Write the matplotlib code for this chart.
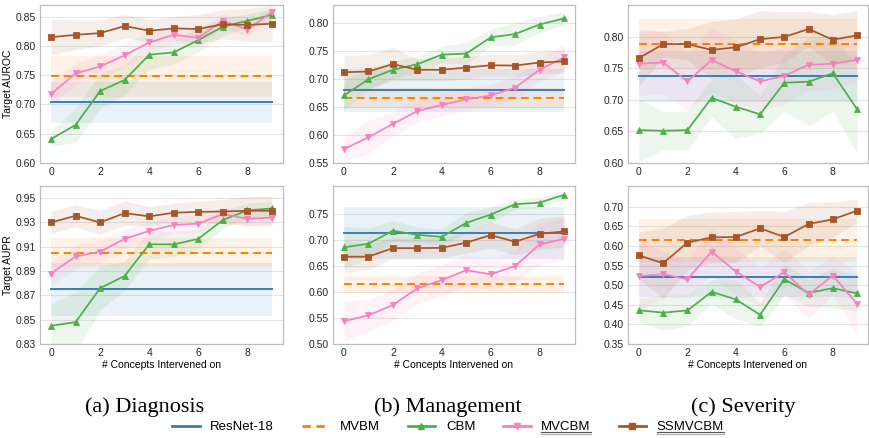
import matplotlib
matplotlib.use("Agg")
import matplotlib.pyplot as plt
from matplotlib.lines import Line2D
import numpy as np

steps = list(range(10))
metric_labels = ["Target AUROC", "Target AUPR"]
captions = ["(a) Diagnosis", "(b) Management", "(c) Severity"]
series_names = ["ResNet-18", "MVBM", "CBM", "MVCBM", "SSMVCBM"]

# ---------------- Diagnosis ----------------
diag_auroc_resnet = 0.704
diag_auroc_resnet_sd = 0.035
diag_auroc_mvbm = 0.748
diag_auroc_mvbm_sd = 0.035
diag_auroc_cbm = [0.641, 0.665, 0.723, 0.742, 0.785, 0.789, 0.810, 0.833, 0.843, 0.853]
diag_auroc_cbm_sd = [0.012, 0.03, 0.03, 0.025, 0.025, 0.02, 0.02, 0.015, 0.012, 0.01]
diag_auroc_mvcbm = [0.718, 0.753, 0.765, 0.784, 0.806, 0.819, 0.814, 0.843, 0.828, 0.858]
diag_auroc_mvcbm_sd = [0.02, 0.018, 0.02, 0.02, 0.018, 0.015, 0.015, 0.012, 0.012, 0.01]
diag_auroc_ssmvcbm = [0.815, 0.819, 0.822, 0.834, 0.826, 0.830, 0.829, 0.837, 0.836, 0.838]
diag_auroc_ssmvcbm_sd = [0.03, 0.025, 0.022, 0.02, 0.02, 0.02, 0.025, 0.025, 0.028, 0.03]

diag_aupr_resnet = 0.875
diag_aupr_resnet_sd = 0.022
diag_aupr_mvbm = 0.905
diag_aupr_mvbm_sd = 0.012
diag_aupr_cbm = [0.845, 0.848, 0.876, 0.886, 0.912, 0.912, 0.9165, 0.932, 0.940, 0.9415]
diag_aupr_cbm_sd = [0.018, 0.025, 0.018, 0.012, 0.012, 0.01, 0.008, 0.007, 0.006, 0.006]
diag_aupr_mvcbm = [0.888, 0.902, 0.906, 0.9165, 0.923, 0.928, 0.929, 0.937, 0.933, 0.934]
diag_aupr_mvcbm_sd = [0.01, 0.01, 0.009, 0.008, 0.008, 0.007, 0.007, 0.006, 0.006, 0.006]
diag_aupr_ssmvcbm = [0.930, 0.9355, 0.930, 0.9377, 0.935, 0.938, 0.9387, 0.939, 0.9396, 0.9396]
diag_aupr_ssmvcbm_sd = [0.009, 0.009, 0.01, 0.01, 0.008, 0.008, 0.009, 0.01, 0.012, 0.012]

# ---------------- Management ----------------
mgmt_auroc_resnet = 0.680
mgmt_auroc_resnet_sd = 0.038
mgmt_auroc_mvbm = 0.667
mgmt_auroc_mvbm_sd = 0.018
mgmt_auroc_cbm = [0.671, 0.700, 0.717, 0.727, 0.744, 0.746, 0.775, 0.781, 0.798, 0.809]
mgmt_auroc_cbm_sd = [0.025, 0.02, 0.015, 0.015, 0.015, 0.02, 0.015, 0.02, 0.015, 0.012]
mgmt_auroc_mvcbm = [0.575, 0.596, 0.620, 0.643, 0.654, 0.664, 0.671, 0.685, 0.717, 0.739]
mgmt_auroc_mvcbm_sd = [0.02, 0.03, 0.022, 0.02, 0.02, 0.02, 0.02, 0.02, 0.02, 0.025]
mgmt_auroc_ssmvcbm = [0.7125, 0.714, 0.727, 0.717, 0.717, 0.721, 0.725, 0.7245, 0.730, 0.732]
mgmt_auroc_ssmvcbm_sd = [0.03, 0.03, 0.03, 0.02, 0.02, 0.02, 0.02, 0.02, 0.02, 0.02]

mgmt_aupr_resnet = 0.713
mgmt_aupr_resnet_sd = 0.05
mgmt_aupr_mvbm = 0.615
mgmt_aupr_mvbm_sd = 0.016
mgmt_aupr_cbm = [0.686, 0.693, 0.718, 0.710, 0.706, 0.733, 0.749, 0.769, 0.772, 0.787]
mgmt_aupr_cbm_sd = [0.04, 0.03, 0.02, 0.015, 0.015, 0.02, 0.015, 0.01, 0.01, 0.008]
mgmt_aupr_mvcbm = [0.544, 0.555, 0.575, 0.607, 0.623, 0.642, 0.634, 0.650, 0.6915, 0.7025]
mgmt_aupr_mvcbm_sd = [0.04, 0.03, 0.03, 0.03, 0.03, 0.03, 0.03, 0.03, 0.04, 0.04]
mgmt_aupr_ssmvcbm = [0.668, 0.668, 0.6845, 0.6845, 0.685, 0.695, 0.7095, 0.6967, 0.712, 0.7166]
mgmt_aupr_ssmvcbm_sd = [0.03, 0.025, 0.02, 0.02, 0.02, 0.02, 0.025, 0.025, 0.03, 0.03]

# ---------------- Severity ----------------
sev_auroc_resnet = 0.737
sev_auroc_resnet_sd = 0.04
sev_auroc_mvbm = 0.788
sev_auroc_mvbm_sd = 0.04
sev_auroc_cbm = [0.652, 0.651, 0.652, 0.703, 0.689, 0.677, 0.727, 0.7286, 0.742, 0.685]
sev_auroc_cbm_sd = [0.05, 0.03, 0.03, 0.03, 0.05, 0.03, 0.045, 0.07, 0.06, 0.07]
sev_auroc_mvcbm = [0.757, 0.759, 0.729, 0.763, 0.745, 0.729, 0.738, 0.7555, 0.757, 0.7635]
sev_auroc_mvcbm_sd = [0.05, 0.05, 0.045, 0.05, 0.05, 0.045, 0.045, 0.04, 0.04, 0.035]
sev_auroc_ssmvcbm = [0.766, 0.788, 0.788, 0.779, 0.783, 0.796, 0.7995, 0.812, 0.795, 0.802]
sev_auroc_ssmvcbm_sd = [0.045, 0.02, 0.025, 0.045, 0.045, 0.045, 0.04, 0.028, 0.04, 0.04]

sev_aupr_resnet = 0.521
sev_aupr_resnet_sd = 0.05
sev_aupr_mvbm = 0.614
sev_aupr_mvbm_sd = 0.055
sev_aupr_cbm = [0.436, 0.430, 0.4356, 0.483, 0.4636, 0.4246, 0.515, 0.4805, 0.4924, 0.479]
sev_aupr_cbm_sd = [0.03, 0.045, 0.04, 0.03, 0.05, 0.03, 0.04, 0.035, 0.05, 0.045]
sev_aupr_mvcbm = [0.523, 0.528, 0.515, 0.5856, 0.5347, 0.4958, 0.533, 0.476, 0.5246, 0.4525]
sev_aupr_mvcbm_sd = [0.09, 0.06, 0.05, 0.06, 0.06, 0.05, 0.06, 0.06, 0.05, 0.08]
sev_aupr_ssmvcbm = [0.576, 0.556, 0.6085, 0.622, 0.623, 0.645, 0.623, 0.656, 0.668, 0.690]
sev_aupr_ssmvcbm_sd = [0.06, 0.09, 0.07, 0.065, 0.065, 0.045, 0.065, 0.055, 0.045, 0.03]

# y-axis settings per panel (ticks)
diag_auroc_ticks = [0.60, 0.65, 0.70, 0.75, 0.80, 0.85]
diag_aupr_ticks = [0.83, 0.85, 0.87, 0.89, 0.91, 0.93, 0.95]
mgmt_auroc_ticks = [0.55, 0.60, 0.65, 0.70, 0.75, 0.80]
mgmt_aupr_ticks = [0.50, 0.55, 0.60, 0.65, 0.70, 0.75]
sev_auroc_ticks = [0.60, 0.65, 0.70, 0.75, 0.80]
sev_aupr_ticks = [0.35, 0.40, 0.45, 0.50, 0.55, 0.60, 0.65, 0.70]
x_ticks = [0, 2, 4, 6, 8]

colors = {"ResNet-18": "#377EB8", "MVBM": "#FF7F00", "CBM": "#4DAF4A",
          "MVCBM": "#F781BF", "SSMVCBM": "#A65628"}
markers = {"CBM": "^", "MVCBM": "v", "SSMVCBM": "s"}

panels = [
    (0, 0, (diag_auroc_resnet, diag_auroc_resnet_sd, diag_auroc_mvbm, diag_auroc_mvbm_sd,
            diag_auroc_cbm, diag_auroc_cbm_sd, diag_auroc_mvcbm, diag_auroc_mvcbm_sd,
            diag_auroc_ssmvcbm, diag_auroc_ssmvcbm_sd), diag_auroc_ticks, (0.60, 0.87)),
    (1, 0, (diag_aupr_resnet, diag_aupr_resnet_sd, diag_aupr_mvbm, diag_aupr_mvbm_sd,
            diag_aupr_cbm, diag_aupr_cbm_sd, diag_aupr_mvcbm, diag_aupr_mvcbm_sd,
            diag_aupr_ssmvcbm, diag_aupr_ssmvcbm_sd), diag_aupr_ticks, (0.83, 0.96)),
    (0, 1, (mgmt_auroc_resnet, mgmt_auroc_resnet_sd, mgmt_auroc_mvbm, mgmt_auroc_mvbm_sd,
            mgmt_auroc_cbm, mgmt_auroc_cbm_sd, mgmt_auroc_mvcbm, mgmt_auroc_mvcbm_sd,
            mgmt_auroc_ssmvcbm, mgmt_auroc_ssmvcbm_sd), mgmt_auroc_ticks, (0.55, 0.833)),
    (1, 1, (mgmt_aupr_resnet, mgmt_aupr_resnet_sd, mgmt_aupr_mvbm, mgmt_aupr_mvbm_sd,
            mgmt_aupr_cbm, mgmt_aupr_cbm_sd, mgmt_aupr_mvcbm, mgmt_aupr_mvcbm_sd,
            mgmt_aupr_ssmvcbm, mgmt_aupr_ssmvcbm_sd), mgmt_aupr_ticks, (0.50, 0.804)),
    (0, 2, (sev_auroc_resnet, sev_auroc_resnet_sd, sev_auroc_mvbm, sev_auroc_mvbm_sd,
            sev_auroc_cbm, sev_auroc_cbm_sd, sev_auroc_mvcbm, sev_auroc_mvcbm_sd,
            sev_auroc_ssmvcbm, sev_auroc_ssmvcbm_sd), sev_auroc_ticks, (0.60, 0.85)),
    (1, 2, (sev_aupr_resnet, sev_aupr_resnet_sd, sev_aupr_mvbm, sev_aupr_mvbm_sd,
            sev_aupr_cbm, sev_aupr_cbm_sd, sev_aupr_mvcbm, sev_aupr_mvcbm_sd,
            sev_aupr_ssmvcbm, sev_aupr_ssmvcbm_sd), sev_aupr_ticks, (0.35, 0.753)),
]

plt.rcParams['font.family'] = ['Liberation Sans', 'DejaVu Sans']

W, H = 870, 438
fig = plt.figure(figsize=(W / 100, H / 100), dpi=100)

col_x = [(40, 283), (333, 575), (628, 868)]
row_y = [(5, 163), (186, 344)]

x = np.array(steps)
for row, col, data, ticks, ylim in panels:
    x0, x1 = col_x[col]
    y0, y1 = row_y[row]
    ax = fig.add_axes([x0 / W, 1 - y1 / H, (x1 - x0) / W, (y1 - y0) / H])
    (rn, rn_sd, mv, mv_sd, cbm, cbm_sd, mvc, mvc_sd, ss, ss_sd) = data
    for name, val, sd, ls in [("ResNet-18", rn, rn_sd, "-"), ("MVBM", mv, mv_sd, "--")]:
        yv = np.full(len(x), val)
        ax.fill_between(x, yv - sd, yv + sd, color=colors[name], alpha=0.1, linewidth=0)
        if ls == "--":
            ax.plot(x, yv, color=colors[name], lw=1.4, ls="--", dashes=(4, 2.5))
        else:
            ax.plot(x, yv, color=colors[name], lw=1.4)
    for name, vals, sds in [("CBM", cbm, cbm_sd), ("MVCBM", mvc, mvc_sd), ("SSMVCBM", ss, ss_sd)]:
        v = np.array(vals)
        s = np.array(sds)
        ax.fill_between(x, v - s, v + s, color=colors[name], alpha=0.1, linewidth=0)
        ax.plot(x, v, color=colors[name], lw=1.25, marker=markers[name], ms=4.5,
                markeredgewidth=0.6)
    ax.set_ylim(*ylim)
    ax.set_xlim(-0.45, 9.45)
    ax.set_yticks(ticks)
    ax.set_yticklabels([f"{t:.2f}" for t in ticks])
    ax.set_xticks(x_ticks)
    ax.tick_params(axis='both', length=0, labelsize=7.5, pad=3, colors="#222222")
    ax.grid(axis='y', color="#e5e5e5", lw=0.8)
    ax.set_axisbelow(True)
    for sp in ax.spines.values():
        sp.set_color("#bdbdbd")
        sp.set_linewidth(0.9)
    if col == 0:
        ax.set_ylabel(metric_labels[row], fontsize=7.5, labelpad=2)
    if row == 1:
        ax.set_xlabel("# Concepts Intervened on", fontsize=7.5, labelpad=1)

cap_x = [145, 448, 743]
for cx, cap in zip(cap_x, captions):
    fig.text(cx / W, 1 - 407 / H, cap, ha='center', va='center', fontsize=16,
             family=['Liberation Serif', 'DejaVu Serif'])

handles = [
    Line2D([], [], color=colors["ResNet-18"], lw=2),
    Line2D([], [], color=colors["MVBM"], lw=2, ls="--", dashes=(3, 2)),
    Line2D([], [], color=colors["CBM"], lw=2, marker="^", ms=5),
    Line2D([], [], color=colors["MVCBM"], lw=2, marker="v", ms=5),
    Line2D([], [], color=colors["SSMVCBM"], lw=2, marker="s", ms=5),
]
leg = fig.legend(handles, series_names, loc='center', bbox_to_anchor=(448 / W, 1 - 427 / H),
                 ncol=5, frameon=False, fontsize=9.5, handlelength=2.1, handletextpad=0.8,
                 columnspacing=2.1)

fig.canvas.draw()
renderer = fig.canvas.get_renderer()
for t in leg.get_texts():
    if t.get_text() in ("MVCBM", "SSMVCBM"):
        bb = t.get_window_extent(renderer)
        yb = bb.y0 + 1.0
        fig.add_artist(Line2D([bb.x0 / W, bb.x1 / W], [yb / H, yb / H], color="#555555", lw=0.8,
                              transform=fig.transFigure))
        fig.add_artist(Line2D([bb.x0 / W, bb.x1 / W], [(yb - 1.5) / H, (yb - 1.5) / H], color="#aaaaaa",
                              lw=0.8, transform=fig.transFigure))

fig.savefig("out.png", dpi=100)
